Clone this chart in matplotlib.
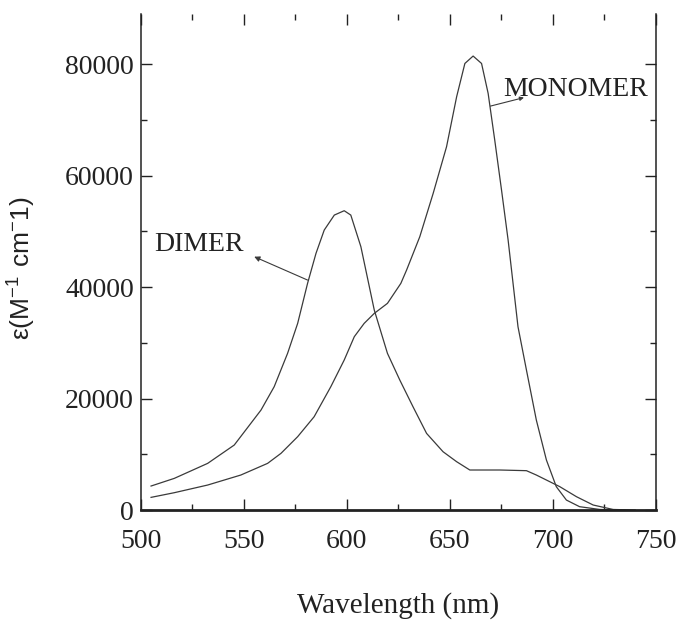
import matplotlib
matplotlib.use("Agg")
import matplotlib.pyplot as plt
from matplotlib.ticker import MultipleLocator

# Absorption spectra
dimer_wl = [504.9, 516.2, 532.4, 545.3, 558.3, 564.7, 571.2, 576.1, 580.9, 585, 589,
            593.9, 598.7, 601.9, 606.8, 613.3, 619.7, 625.7, 632.1, 638.7, 646.7,
            653.3, 659.7, 674.3, 687.2, 692, 703.4, 711.5, 719.6, 729.3, 740]
dimer_eps = [4306, 5681, 8372, 11660, 17940, 22130, 28110, 33490, 40660, 46050, 50230,
             52920, 53700, 52920, 47240, 35880, 28110, 23320, 18540, 13750, 10460,
             8670, 7180, 7180, 7060, 6280, 4190, 2390, 900, 100, 0]

monomer_wl = [504.9, 516.2, 532.4, 548.5, 561.5, 568, 576.1, 584.1, 592.2, 598.7, 603.6,
              608.4, 613.3, 619.7, 626.2, 629, 635.4, 641.9, 648.4, 653.3, 657.3,
              661.3, 665.4, 668.6, 671.8, 675.1, 678.3, 683.1, 687.2, 692, 696.9,
              701.7, 706.6, 713, 722.8, 735]
monomer_eps = [2272, 3110, 4485, 6279, 8372, 10170, 13160, 16740, 22130, 26910, 31100,
               33490, 35280, 37080, 40660, 43060, 49030, 56810, 65180, 74150, 80120,
               81450, 80120, 74750, 66380, 57410, 48440, 32880, 25120, 16150, 8970,
               4190, 1790, 600, 100, 0]

xticks = [500, 550, 600, 650, 700, 750]
yticks = [0, 20000, 40000, 60000, 80000]

plt.rcParams['font.family'] = ['Liberation Serif', 'DejaVu Serif']
plt.rcParams['mathtext.fontset'] = 'custom'
plt.rcParams['mathtext.rm'] = 'Liberation Sans'

fig = plt.figure(figsize=(6.91, 6.21), dpi=100)
ax = fig.add_axes([0.204, 0.1787, 0.745, 0.7988])

line_col = '#3a3a3a'
ax.plot(dimer_wl, dimer_eps, color=line_col, lw=0.9)
ax.plot(monomer_wl, monomer_eps, color=line_col, lw=0.9)

ax.set_xlim(500, 750)
ax.set_ylim(0, 89000)
ax.set_xticks(xticks)
ax.set_yticks(yticks)
ax.xaxis.set_minor_locator(MultipleLocator(25))
ax.yaxis.set_minor_locator(MultipleLocator(10000))
ax.tick_params(which='both', direction='in', top=True, right=True,
               labelsize=20, colors='#222222')
ax.tick_params(which='major', length=8, width=1)
ax.tick_params(which='minor', length=4, width=1)
ax.tick_params(axis='x', which='both', pad=14)
ax.tick_params(axis='y', which='both', pad=5)

ax.spines['top'].set_visible(False)
for s in ['left', 'right']:
    ax.spines[s].set_linewidth(1.1)
    ax.spines[s].set_color('#222222')
ax.spines['bottom'].set_linewidth(2)
ax.spines['bottom'].set_color('#222222')

ax.set_xlabel('Wavelength (nm)', fontsize=21, color='#222222')
ax.xaxis.set_label_coords(0.5, -0.165)
ax.set_ylabel(r'$\mathrm{\epsilon(M^{-1}\ cm^{-}1)}$', fontsize=19,
              color='#222222', family='Liberation Sans')
ax.yaxis.set_label_coords(-0.200, 0.488)

ax.text(506.5, 47720, 'DIMER', fontsize=20, va='center', ha='left', color='#222222')
ax.annotate('', xy=(555, 45450), xytext=(580.9, 41260),
            arrowprops=dict(arrowstyle='-|>', color=line_col, lw=0.8,
                            mutation_scale=8, shrinkA=0, shrinkB=0))
ax.text(675.9, 75400, 'MONOMER', fontsize=20, va='center', ha='left',
        color='#222222', clip_on=False)
ax.annotate('', xy=(686, 74000), xytext=(669.7, 72470),
            arrowprops=dict(arrowstyle='-|>', color=line_col, lw=0.8,
                            mutation_scale=6, shrinkA=0, shrinkB=0))

fig.savefig('out.png', dpi=100)
